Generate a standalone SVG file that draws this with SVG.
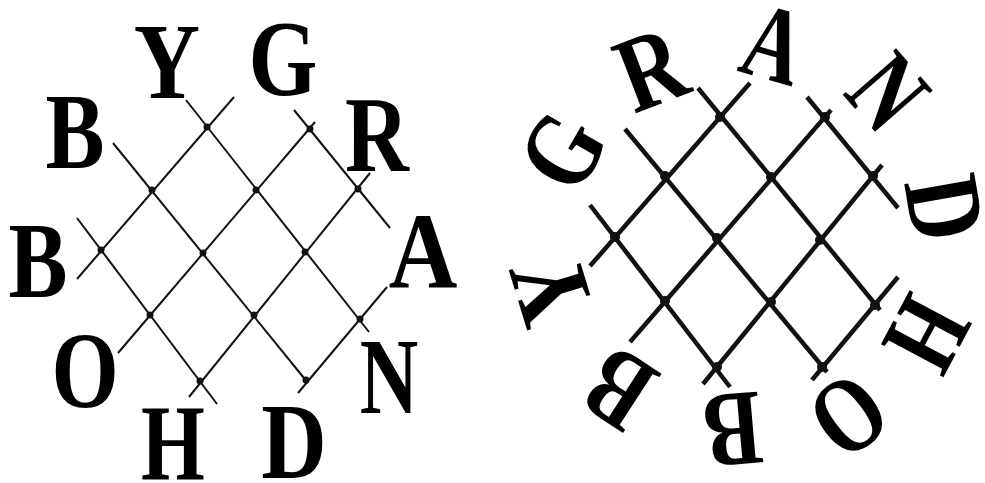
<svg xmlns="http://www.w3.org/2000/svg" width="985" height="483" viewBox="0 0 985 483">
<style>
.bg{fill:#fff}
.ln1{stroke:#111;stroke-width:2;stroke-linecap:butt;fill:none}
.ln2{stroke:#111;stroke-width:4.5;stroke-linecap:butt;fill:none}
.k1{fill:#111}
.k2{fill:#111}
.lt{font-family:"Liberation Serif","Times New Roman",serif;font-weight:700;font-size:108px;fill:#000;text-anchor:middle}
</style>
<rect class="bg" x="0" y="0" width="985" height="483"/>
<g id="left-connectors">
<line class="ln1" x1="294" y1="110" x2="390" y2="228"/>
<line class="ln1" x1="186" y1="100" x2="369" y2="332"/>
<line class="ln1" x1="113" y1="143" x2="308" y2="383"/>
<line class="ln1" x1="77" y1="218" x2="217" y2="404"/>
<line class="ln1" x1="234" y1="97" x2="77" y2="279"/>
<line class="ln1" x1="315" y1="122" x2="118" y2="353"/>
<line class="ln1" x1="370" y1="173" x2="189" y2="397"/>
<line class="ln1" x1="387" y1="287" x2="298" y2="393"/>
</g>
<g id="left-knots">
<circle class="k1" cx="207" cy="127" r="3.5"/>
<circle class="k1" cx="310" cy="129" r="3.5"/>
<circle class="k1" cx="152" cy="190" r="3.5"/>
<circle class="k1" cx="256" cy="190" r="3.5"/>
<circle class="k1" cx="358" cy="189" r="3.5"/>
<circle class="k1" cx="101" cy="250" r="3.5"/>
<circle class="k1" cx="203" cy="253" r="3.5"/>
<circle class="k1" cx="305" cy="252" r="3.5"/>
<circle class="k1" cx="150" cy="315" r="3.5"/>
<circle class="k1" cx="254" cy="315" r="3.5"/>
<circle class="k1" cx="360" cy="319" r="3.5"/>
<circle class="k1" cx="200" cy="381" r="3.5"/>
<circle class="k1" cx="306" cy="380" r="3.5"/>
</g>
<g id="left-Y"><text class="lt" transform="translate(167,98) scale(0.85,1)">Y</text></g>
<g id="left-G"><text class="lt" transform="translate(283,95) scale(0.82,1)">G</text></g>
<g id="left-B1"><text class="lt" transform="translate(75,168) scale(0.82,1)">B</text></g>
<g id="left-R"><text class="lt" transform="translate(377,171) scale(0.82,1)">R</text></g>
<g id="left-B2"><text class="lt" transform="translate(38,297) scale(0.82,1)">B</text></g>
<g id="left-A"><text class="lt" transform="translate(423,288) scale(0.88,1)">A</text></g>
<g id="left-O"><text class="lt" transform="translate(85,407) scale(0.8,1)">O</text></g>
<g id="left-N"><text class="lt" transform="translate(389,413) scale(0.75,1)">N</text></g>
<g id="left-H"><text class="lt" transform="translate(173,480) scale(0.76,1)">H</text></g>
<g id="left-D"><text class="lt" transform="translate(294,478) scale(0.84,1)">D</text></g>

<g id="right-connectors">
<line class="ln2" x1="807" y1="97" x2="898" y2="208"/>
<line class="ln2" x1="698" y1="88" x2="880" y2="310"/>
<line class="ln2" x1="625" y1="129" x2="827" y2="372"/>
<line class="ln2" x1="590" y1="205" x2="730" y2="387"/>
<line class="ln2" x1="750" y1="83" x2="590" y2="266"/>
<line class="ln2" x1="831" y1="110" x2="630" y2="342"/>
<line class="ln2" x1="882" y1="165" x2="703" y2="384"/>
<line class="ln2" x1="898" y1="277" x2="812" y2="380"/>
</g>
<g id="right-knots">
<circle class="k2" cx="720" cy="117" r="5"/>
<circle class="k2" cx="825" cy="117" r="5"/>
<circle class="k2" cx="665" cy="176" r="5"/>
<circle class="k2" cx="771" cy="177" r="5"/>
<circle class="k2" cx="873" cy="176" r="5"/>
<circle class="k2" cx="615" cy="237" r="5"/>
<circle class="k2" cx="717" cy="238" r="5"/>
<circle class="k2" cx="820" cy="240" r="5"/>
<circle class="k2" cx="665" cy="301" r="5"/>
<circle class="k2" cx="771" cy="302" r="5"/>
<circle class="k2" cx="875" cy="305" r="5"/>
<circle class="k2" cx="717" cy="367" r="5"/>
<circle class="k2" cx="822" cy="367" r="5"/>
</g>
<g id="right-Y"><text class="lt" transform="translate(551,290) rotate(-107) scale(0.85,1)" y="36">Y</text></g>
<g id="right-B1"><text class="lt" transform="translate(619,389) rotate(213) scale(0.8,1)" y="36">B</text></g>
<g id="right-B2"><text class="lt" transform="translate(733,430) rotate(175) scale(0.8,1)" y="36">B</text></g>
<g id="right-O"><text class="lt" transform="translate(849,416) rotate(143) scale(0.78,1)" y="36">O</text></g>
<g id="right-H"><text class="lt" transform="translate(927,334) rotate(118) scale(0.76,1)" y="36">H</text></g>
<g id="right-D"><text class="lt" transform="translate(945,208) rotate(80) scale(0.82,1)" y="36">D</text></g>
<g id="right-N"><text class="lt" transform="translate(888,92) rotate(49) scale(0.75,1)" y="36">N</text></g>
<g id="right-A"><text class="lt" transform="translate(774,44) rotate(16) scale(0.75,1)" y="36">A</text></g>
<g id="right-R"><text class="lt" transform="translate(651,69) rotate(-21) scale(0.82,1)" y="36">R</text></g>
<g id="right-G"><text class="lt" transform="translate(562,151) rotate(-60) scale(0.8,1)" y="36">G</text></g>
</svg>
